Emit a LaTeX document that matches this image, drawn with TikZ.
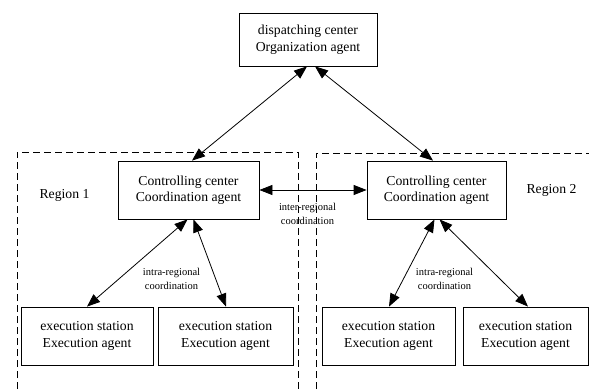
\documentclass[tikz,border=0pt]{standalone}
\usepackage{fontspec}
\setmainfont{Liberation Serif}
\usetikzlibrary{arrows.meta,calc}
\begin{document}
\begin{tikzpicture}[x=1pt,y=-1pt,
  box/.style={draw,line width=0.8pt,inner sep=0pt,align=center,
    font=\fontsize{13.7}{16.5}\selectfont},
  small/.style={inner sep=0pt,align=center,font=\fontsize{10.5}{14}\selectfont},
  reg/.style={draw,line width=0.9pt,dash pattern=on 7pt off 4pt},
  link/.style={line width=0.8pt,{Triangle[length=13pt,width=10pt]}-{Triangle[length=13pt,width=10pt]}},
  lbl/.style={inner sep=0pt,font=\fontsize{13.7}{16.5}\selectfont}]
\useasboundingbox (0,0) rectangle (589,390);
\clip (0,0) rectangle (589,390);
% regions
\draw[reg] (17,400) -- (17,152) -- (298,152) -- (298,400);
\draw[reg] (316,400) -- (316,153) -- (600,153);
% nodes
\node[box,minimum width=138,minimum height=53] (top) at (308,39.5) {dispatching center\\Organization agent};
\node[box,minimum width=141,minimum height=58] (lc) at (188.5,190) {Controlling center\\Coordination agent};
\node[box,minimum width=139,minimum height=58] (rc) at (436.5,190) {Controlling center\\Coordination agent};
\node[box,minimum width=132,minimum height=58] (e1) at (87,336) {execution station\\Execution agent};
\node[box,minimum width=135,minimum height=58] (e2) at (225.5,336) {execution station\\Execution agent};
\node[box,minimum width=133,minimum height=58] (e3) at (388.5,336) {execution station\\Execution agent};
\node[box,minimum width=125,minimum height=58] (e4) at (525.5,336) {execution station\\Execution agent};
\node[lbl] (r1) at (64.5,195) {Region 1};
\node[lbl] (r2) at (551.5,190) {Region 2};
\node[small] (inter) at (307.5,214) {inter-regional\\coordination};
\node[small] (intra1) at (171.5,278.5) {intra-regional\\coordination};
\node[small] (intra2) at (444.5,278.5) {intra-regional\\coordination};
% connectors
\draw[link] ($(top.south)+(-1,0)$) -- ($(lc.north)+(3.5,0)$);
\draw[link] ($(top.south)+(7,0)$) -- ($(rc.north)+(-3.5,0)$);
\draw[link] (lc.east) -- (rc.west);
\draw[link] ($(lc.south)+(-1,0)$) -- ($(e1.north)+(0,0)$);
\draw[link] ($(lc.south)+(5,0)$) -- ($(e2.north)+(0.5,0)$);
\draw[link] ($(rc.south)+(-2,0)$) -- ($(e3.north)+(0.5,0)$);
\draw[link] ($(rc.south)+(3,0)$) -- ($(e4.north)+(2.5,0)$);
\end{tikzpicture}
\end{document}
